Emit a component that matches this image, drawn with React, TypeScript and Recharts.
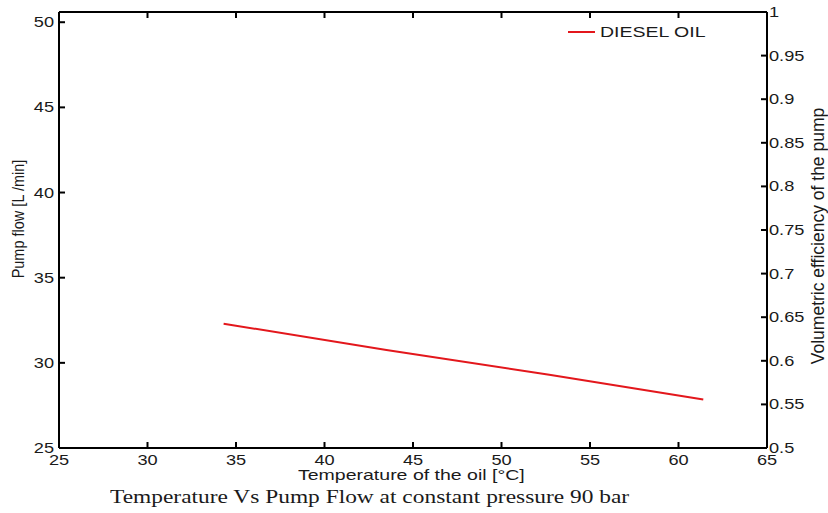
import React from 'react';
import { ComposedChart, Line, XAxis, YAxis } from 'recharts';

const temperature = [34.3, 43.5, 52.7, 61.4];
const pumpFlow = [32.3, 30.75, 29.3, 27.85];
const xTicks = [25, 30, 35, 40, 45, 50, 55, 60, 65];
const leftTicks = [25, 30, 35, 40, 45, 50];
const rightTicks = [0.5, 0.55, 0.6, 0.65, 0.7, 0.75, 0.8, 0.85, 0.9, 0.95, 1];

const data = temperature.map((t, i) => ({ t, flow: pumpFlow[i] }));

const FONT = '"Liberation Sans", Arial, sans-serif';
const AX = { stroke: '#000', strokeWidth: 2 };
const SX = 1.3;
const TXT = '#1a1a1a';

const StretchText = ({ x, y, anchor, size, children }: any) => (
  <text transform={`translate(${x},${y}) scale(${SX},1)`} x={0} y={0} textAnchor={anchor} fontSize={size} fill={TXT} fontFamily={FONT}>
    {children}
  </text>
);

const BottomTick = (p: any) => (
  <g>
    <line x1={p.x} y1={p.y} x2={p.x} y2={p.y - 6} stroke="#000" strokeWidth={2} />
    <StretchText x={p.x} y={p.y + 17} anchor="middle" size={14}>{p.payload.value}</StretchText>
  </g>
);
const TopTick = (p: any) => (
  <line x1={p.x} y1={p.y} x2={p.x} y2={p.y + 6} stroke="#000" strokeWidth={2} />
);
const LeftTick = (p: any) => (
  <g>
    <line x1={p.x} y1={p.y} x2={p.x + 6} y2={p.y} stroke="#000" strokeWidth={2} />
    <StretchText x={p.x - 5} y={p.y + 5} anchor="end" size={14}>{p.payload.value}</StretchText>
  </g>
);
const RightTick = (p: any) => (
  <g>
    <line x1={p.x} y1={p.y} x2={p.x - 6} y2={p.y} stroke="#000" strokeWidth={2} />
    <StretchText x={p.x + 2} y={p.y + 5} anchor="start" size={14}>{String(p.payload.value)}</StretchText>
  </g>
);

export default function App() {
  return (
    <div style={{ position: 'absolute', left: 0, top: 0, width: 828, height: 513, background: '#fff', fontFamily: FONT }}>
      <ComposedChart width={828} height={513} data={data} margin={{ top: 11, right: 0, left: 0, bottom: 0 }}>
        <XAxis xAxisId="b" dataKey="t" type="number" domain={[25, 65]} ticks={xTicks} orientation="bottom" allowDataOverflow
          height={65} tickSize={0} tickMargin={0} tick={BottomTick} axisLine={AX} interval={0} />
        <XAxis xAxisId="top" dataKey="t" type="number" domain={[25, 65]} ticks={xTicks} orientation="top" allowDataOverflow
          height={1} tickSize={0} tickMargin={0} tick={TopTick} axisLine={AX} interval={0} />
        <YAxis yAxisId="left" type="number" domain={[25, 50.6]} ticks={leftTicks} orientation="left" allowDataOverflow
          width={59} tickSize={0} tickMargin={0} tick={LeftTick} axisLine={AX} interval={0} />
        <YAxis yAxisId="right" type="number" domain={[0.5, 1]} ticks={rightTicks} orientation="right" allowDataOverflow
          width={61} tickSize={0} tickMargin={0} tick={RightTick} axisLine={AX} interval={0} />
        <Line xAxisId="b" yAxisId="left" dataKey="flow" stroke="#e3171c" strokeWidth={2} dot={false} isAnimationActive={false} />
      </ComposedChart>
      <div style={{ position: 'absolute', left: 568, top: 24, display: 'flex', alignItems: 'center', fontSize: 15, lineHeight: '16px', color: TXT }}>
        <div style={{ width: 27, height: 2, background: '#e3171c', marginRight: 5 }} />
        <span style={{ display: 'inline-block', transform: `scaleX(${SX})`, transformOrigin: 'left center' }}>DIESEL OIL</span>
      </div>
      <div style={{ position: 'absolute', left: 298, top: 467, fontSize: 15, lineHeight: '16px', color: TXT, whiteSpace: 'nowrap', transform: `scaleX(${SX})`, transformOrigin: 'left center' }}>
        Temperature of the oil [°C]
      </div>
      <div style={{ position: 'absolute', left: 18, top: 219, transform: 'translate(-50%, -50%) scaleX(1.2) rotate(-90deg)', whiteSpace: 'nowrap', fontSize: 14.5, lineHeight: '16px', color: TXT }}>
        Pump flow [L /min]
      </div>
      <div style={{ position: 'absolute', left: 818, top: 236, transform: 'translate(-50%, -50%) rotate(-90deg)', whiteSpace: 'nowrap', fontSize: 17.5, lineHeight: '18px', color: TXT }}>
        Volumetric efficiency of the pump
      </div>
      <div style={{ position: 'absolute', left: 110, top: 487, whiteSpace: 'nowrap', fontSize: 18, lineHeight: '20px', color: TXT, fontFamily: '"Liberation Serif", "Times New Roman", serif', transform: `scaleX(${SX})`, transformOrigin: 'left center' }}>
        Temperature Vs Pump Flow at constant pressure 90 bar
      </div>
    </div>
  );
}
